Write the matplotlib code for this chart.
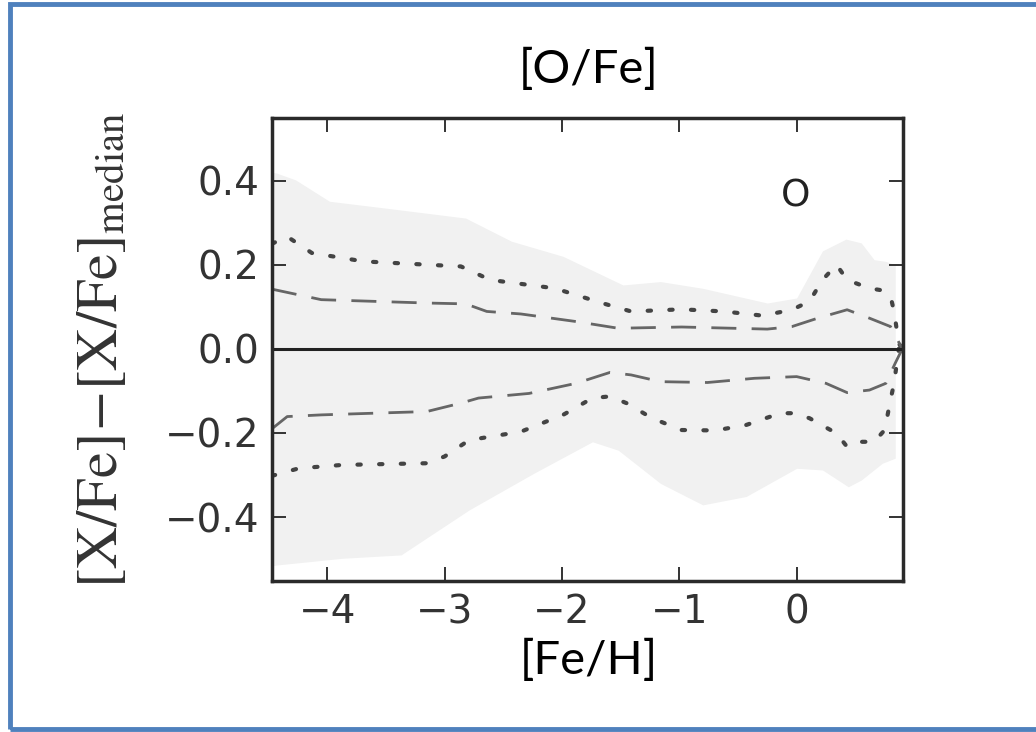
import numpy as np
import matplotlib
matplotlib.use("Agg")
import matplotlib.pyplot as plt
from matplotlib.patches import Rectangle

# [Fe/H] grid for each curve, with the scatter percentiles of [O/Fe] about the median
band_feh = [-4.47, -4.43, -4.27, -3.98, -3.51, -2.82, -2.43, -1.99, -1.48, -1.16, -0.80,
            -0.25, 0.0, 0.22, 0.42, 0.55, 0.66, 0.76, 0.84]
band_hi = [0.42, 0.418, 0.402, 0.351, 0.335, 0.311, 0.256, 0.220, 0.152, 0.160, 0.144,
           0.109, 0.121, 0.233, 0.261, 0.252, 0.212, 0.208, 0.20]
band_lo_feh = [-4.47, -4.43, -3.87, -3.37, -2.79, -2.24, -1.74, -1.52, -1.16, -0.80, -0.43,
               0.0, 0.22, 0.44, 0.55, 0.73, 0.84]
band_lo = [-0.516, -0.514, -0.498, -0.490, -0.383, -0.296, -0.221, -0.241, -0.320, -0.371,
           -0.351, -0.284, -0.288, -0.328, -0.312, -0.272, -0.26]

hi2_feh = [-4.47, -4.34, -4.13, -3.69, -2.86, -2.61, -2.06, -1.66, -1.41, -0.98, -0.62,
           -0.29, -0.04, 0.11, 0.22, 0.34, 0.43, 0.62, 0.71, 0.80, 0.83, 0.87, 0.90]
hi2 = [0.25, 0.267, 0.228, 0.208, 0.196, 0.164, 0.144, 0.109, 0.089, 0.094, 0.089,
       0.079, 0.093, 0.113, 0.164, 0.200, 0.164, 0.144, 0.140, 0.125, 0.089, 0.013, 0.0]

hi1_feh = [-4.47, -4.05, -3.15, -2.82, -2.64, -2.35, -1.88, -1.52, -0.98, -0.25, -0.04,
           0.18, 0.43, 0.62, 0.80, 0.90]
hi1 = [0.142, 0.117, 0.109, 0.107, 0.089, 0.083, 0.065, 0.049, 0.052, 0.047, 0.053,
       0.073, 0.093, 0.073, 0.053, 0.0]

lo1_feh = [-4.47, -4.34, -4.05, -3.15, -2.86, -2.71, -2.28, -1.88, -1.59, -1.41, -1.16,
           -0.76, -0.36, 0.0, 0.25, 0.43, 0.62, 0.76, 0.84, 0.90]
lo1 = [-0.19, -0.161, -0.157, -0.149, -0.129, -0.117, -0.106, -0.082, -0.056, -0.062,
       -0.078, -0.080, -0.070, -0.066, -0.082, -0.104, -0.098, -0.082, -0.034, 0.0]

lo2_feh = [-4.47, -4.24, -3.87, -3.15, -3.0, -2.79, -2.35, -1.99, -1.74, -1.59, -1.45,
           -1.23, -0.98, -0.69, -0.43, -0.14, -0.02, 0.11, 0.34, 0.43, 0.55, 0.66, 0.75,
           0.80, 0.83, 0.87, 0.90]
lo2 = [-0.302, -0.284, -0.276, -0.272, -0.256, -0.217, -0.197, -0.157, -0.117, -0.113,
       -0.129, -0.165, -0.193, -0.194, -0.181, -0.153, -0.153, -0.165, -0.201, -0.233,
       -0.221, -0.221, -0.193, -0.121, -0.082, 0.0, 0.0]

xticks = [-4, -3, -2, -1, 0]
yticks = [-0.4, -0.2, 0.0, 0.2, 0.4]

plt.rcParams['mathtext.fontset'] = 'stix'
slide_font = ['Lato', 'DejaVu Sans']

fig = plt.figure(figsize=(10.36, 7.32), dpi=100)
ax = fig.add_axes([0.2625, 0.2063, 0.609, 0.6325])

# shaded full range, interpolated onto a common grid
grid = np.union1d(band_feh, band_lo_feh)
ax.fill_between(grid, np.interp(grid, band_lo_feh, band_lo), np.interp(grid, band_feh, band_hi),
                color='#f1f1f1', lw=0)

ax.plot(hi2_feh, hi2, ls=(0, (0.8, 4.4)), color='#444444', lw=3.0, dash_capstyle='round')
ax.plot(lo2_feh, lo2, ls=(0, (0.8, 4.4)), color='#444444', lw=3.0, dash_capstyle='round')
ax.plot(hi1_feh, hi1, ls=(0, (9, 5.5)), color='#666666', lw=2.0)
ax.plot(lo1_feh, lo1, ls=(0, (9, 5.5)), color='#666666', lw=2.0)
ax.axhline(0, color='#222222', lw=2.2)

ax.text(0.83, 0.83, 'O', transform=ax.transAxes, fontsize=27, color='#222222',
        ha='center', va='center')

ax.set_xlim(-4.47, 0.905)
ax.set_ylim(-0.552, 0.549)
ax.set_xticks(xticks)
ax.set_yticks(yticks)
ax.tick_params(direction='in', length=10, width=1.4, top=True, right=True,
               labelsize=28, labelcolor='#333333', color='#333333', pad=9)
for s in ax.spines.values():
    s.set_linewidth(2.5)
    s.set_color('#2a2a2a')

ax.set_ylabel(r'$\mathrm{[X/Fe]}\!-\!\mathrm{[X/Fe]}_{\mathrm{median}}$', fontsize=42,
              color='#333333', labelpad=26)
fig.text(0.568, 0.905, '[O/Fe]', family=slide_font, fontsize=34, ha='center', va='center')
fig.text(0.568, 0.098, '[Fe/H]', family=slide_font, fontsize=34, ha='center', va='center')

# slide-style frame around the panel
fig.patches.append(Rectangle((0.0095, 0.0035), 1.02, 0.9915, transform=fig.transFigure,
                             fill=False, edgecolor='#4f81bd', lw=3.5, zorder=10))

fig.savefig('out.png', dpi=100)
